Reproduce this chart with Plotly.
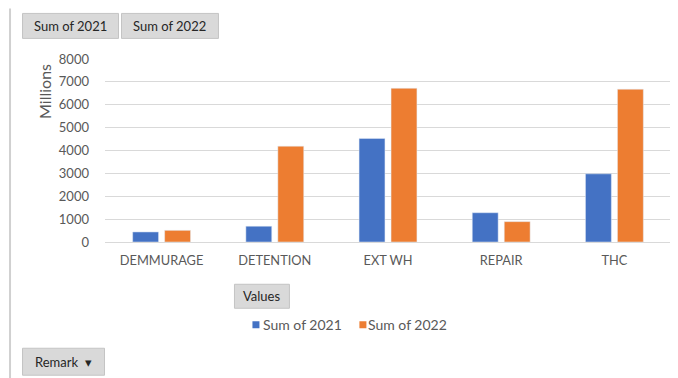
import plotly.graph_objects as go

categories = ["DEMMURAGE", "DETENTION", "EXT WH", "REPAIR", "THC"]
sum_2021 = [440, 690, 4530, 1280, 2980]
sum_2022 = [510, 4190, 6720, 890, 6680]
series_names = ["Sum of 2021", "Sum of 2022"]
series_colors = ["#4472C4", "#ED7D31"]
y_ticks = [0, 1000, 2000, 3000, 4000, 5000, 6000, 7000, 8000]

# page is 678x378; the html body adds an 8px margin, so the figure starts at (8, 8)
OFF = 8
PAGE_W, PAGE_H = 678, 378
W, H = PAGE_W - OFF, PAGE_H - OFF
# plot area in page pixels
PX0, PX1, PY0, PY1 = 104.5, 670.7, 58.6, 241.7
L, R, T, B = PX0 - OFF, PAGE_W - PX1, PY0 - OFF, PAGE_H - PY1
PW = PX1 - PX0
PH = PY1 - PY0

def px(x):  # page x -> paper x
    return (x - PX0) / PW

def py(y):  # page y -> paper y
    return (PY1 - y) / PH

FONT = "Lato, 'Open Sans', sans-serif"
GRAY = "#595959"

fig = go.Figure()
for name, vals, col in zip(series_names, [sum_2021, sum_2022], series_colors):
    fig.add_trace(go.Bar(x=categories, y=vals, name=name, marker_color=col, showlegend=False))

shapes = []
annotations = []

def button(x0, y0, x1, y1, text):
    shapes.append(dict(type="rect", xref="paper", yref="paper",
                       x0=px(x0), x1=px(x1), y0=py(y1), y1=py(y0),
                       fillcolor="#d9d9d9", line=dict(color="#c4c4c4", width=1), layer="above"))
    annotations.append(dict(xref="paper", yref="paper", x=px((x0 + x1) / 2), y=py((y0 + y1) / 2),
                            text=text, showarrow=False, xanchor="center", yanchor="middle",
                            font=dict(family=FONT, size=13, color="#262626")))

button(22, 13, 118, 38, "Sum of 2021")
button(121, 13, 218, 38, "Sum of 2022")
button(234, 284, 289, 308, "Values")
button(22, 348, 104, 375, "Remark  \u25BE")

# left border line
shapes.append(dict(type="line", xref="paper", yref="paper",
                   x0=px(9.5), x1=px(9.5), y0=py(378), y1=py(8),
                   line=dict(color="#d0d0d0", width=2)))

# legend (squares + labels)
leg_items = [(252, 261), (359, 366)]
for (sx, tx), name, col in zip(leg_items, series_names, series_colors):
    shapes.append(dict(type="rect", xref="paper", yref="paper",
                       x0=px(sx), x1=px(sx + 7), y0=py(328), y1=py(321),
                       fillcolor=col, line=dict(width=0)))
    annotations.append(dict(xref="paper", yref="paper", x=px(tx), y=py(324.5), text=name,
                            showarrow=False, xanchor="left", yanchor="middle",
                            font=dict(family=FONT, size=14, color=GRAY)))

annotations.append(dict(xref="paper", yref="paper", x=px(44), y=py(91), text="Millions",
                        textangle=-90, showarrow=False, xanchor="center", yanchor="middle",
                        font=dict(family=FONT, size=16, color=GRAY)))

fig.update_layout(
    width=W, height=H,
    margin=dict(l=L, r=R, t=T, b=B, pad=0),
    paper_bgcolor="white", plot_bgcolor="white",
    barmode="group", bargap=0.435, bargroupgap=0.19,
    font=dict(family=FONT, size=13, color=GRAY),
    showlegend=False,
    shapes=shapes, annotations=annotations,
    xaxis=dict(showgrid=False, showline=True, linecolor="#d9d9d9", linewidth=1,
               ticks="", ticklabelstandoff=7,
               tickfont=dict(family=FONT, size=12.8, color=GRAY), fixedrange=True),
    yaxis=dict(range=[0, 8000], tickvals=y_ticks, showgrid=True, gridcolor="#d9d9d9",
               gridwidth=1, zeroline=False, ticks="", ticklabelstandoff=15,
               tickfont=dict(family=FONT, size=13, color=GRAY), fixedrange=True),
)

fig.write_html("out.html")
